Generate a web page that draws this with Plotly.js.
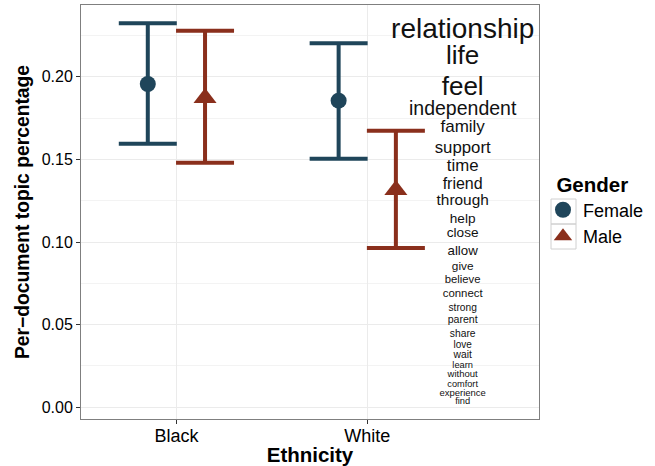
<!DOCTYPE html>
<html>
<head>
<meta charset="utf-8">
<script src="https://cdn.plot.ly/plotly-3.0.1.min.js"></script>
<style>html,body{margin:0;padding:0;background:#fff;}#chart{width:655px;height:466px;}</style>
</head>
<body>
<div id="chart"></div>
<script>
// ---- data ----
const categories = ['Black', 'White'];
const genders = ['Female', 'Male'];
const femaleMean  = [0.1956, 0.1855];
const femaleLower = [0.1595, 0.1504];
const femaleUpper = [0.2323, 0.2202];
const maleMean    = [0.1871, 0.1314];
const maleLower   = [0.1480, 0.0964];
const maleUpper   = [0.2278, 0.1673];

const words = ['relationship','life','feel','independent','family','support','time','friend','through','help','close','allow','give','believe','connect','strong','parent','share','love','wait','learn','without','comfort','experience','find'];
const wordY = [0.2276,0.2119,0.1926,0.1799,0.1690,0.1563,0.1454,0.1345,0.1248,0.1133,0.1049,0.0940,0.0849,0.0771,0.0686,0.0595,0.0523,0.0438,0.0372,0.0311,0.0251,0.0196,0.0136,0.0082,0.0033];
const wordSize = [28,26,26,19.5,17,16.8,16.8,16,15.4,13.6,13.6,13.3,11.8,11.3,11.4,10.2,10.6,10.3,10,10.3,9.3,9.5,9.2,9.5,9.3];
const wordX = 2.5;

// ---- styling ----
const FONT = 'Liberation Sans, Arial, Helvetica, sans-serif';
const colFemale = '#1f455a';
const colMale = '#8a2f1c';
const dodge = 0.15;
const catPos = categories.map((c, i) => i + 1);

function errTrace(name, mean, lower, upper, offset, color, symbol, size) {
  return {
    type: 'scatter', mode: 'markers', name: name,
    x: catPos.map(p => p + offset), y: mean,
    marker: {color: color, symbol: symbol, size: size, line: {width: 0}},
    error_y: {type: 'data', symmetric: false,
      array: upper.map((u, i) => u - mean[i]),
      arrayminus: lower.map((l, i) => mean[i] - l),
      color: color, thickness: 4, width: 29},
    hoverinfo: 'skip'
  };
}

const traces = [
  errTrace(genders[0], femaleMean, femaleLower, femaleUpper, -dodge, colFemale, 'circle', 16),
  errTrace(genders[1], maleMean, maleLower, maleUpper, dodge, colMale, 'triangle-up', 20),
  {type: 'scatter', mode: 'text', x: words.map(() => wordX), y: wordY, text: words,
   textposition: 'middle center', textfont: {family: FONT, size: wordSize, color: '#111'},
   showlegend: false, hoverinfo: 'skip', cliponaxis: false}
];

// ggplot-style legend key boxes (paper coords from pixel positions)
const keyBox = (x0, x1, y0, y1) => ({type: 'rect', xref: 'paper', yref: 'paper',
  x0: (x0 - 81) / 458, x1: (x1 - 81) / 458, y0: (419 - y1) / 414, y1: (419 - y0) / 414,
  line: {color: '#d0d0d0', width: 1}, fillcolor: 'rgba(0,0,0,0)', layer: 'below'});

const layout = {
  width: 655, height: 466,
  margin: {l: 81, r: 116, t: 5, b: 47, autoexpand: false},
  paper_bgcolor: '#fff', plot_bgcolor: '#fff',
  font: {family: FONT, color: '#000'},
  showlegend: true,
  xaxis: {
    range: [0.5, 2.9], tickvals: catPos, ticktext: categories,
    showgrid: true, gridcolor: '#ebebeb', gridwidth: 1, zeroline: false,
    showline: true, mirror: true, linecolor: '#7f7f7f', linewidth: 1,
    ticks: 'outside', ticklen: 4, tickcolor: '#333', tickfont: {size: 18, color: '#000'},
    ticklabelstandoff: -4,
    title: {text: 'Ethnicity', font: {size: 20.5, color: '#000', weight: 'bold'}, standoff: 0}
  },
  yaxis: {
    range: [-0.0071, 0.2434], tickvals: [0, 0.05, 0.10, 0.15, 0.20], ticktext: ['0.00','0.05','0.10','0.15','0.20'],
    showgrid: true, gridcolor: '#ebebeb', gridwidth: 1, zeroline: false,
    minor: {tickvals: [0.025, 0.075, 0.125, 0.175, 0.225], showgrid: true, gridcolor: '#f3f3f3', gridwidth: 1, ticks: ''},
    showline: true, mirror: true, linecolor: '#7f7f7f', linewidth: 1,
    ticks: 'outside', ticklen: 4, tickcolor: '#333', tickfont: {size: 16, color: '#000'},
    title: {text: 'Per\u2212document topic percentage', font: {size: 19.3, color: '#000', weight: 'bold'}, standoff: 6}
  },
  legend: {
    x: 1.0087, y: 0.505, xanchor: 'left', yanchor: 'middle',
    title: {text: '\u00a0\u00a0Gender', font: {size: 20.5, weight: 'bold', color: '#000'}},
    font: {size: 18, color: '#000'}, itemwidth: 30, tracegroupgap: 0,
    bgcolor: 'rgba(0,0,0,0)'
  },
  shapes: [keyBox(551, 576, 199, 224), keyBox(551, 576, 224, 249)]
};

Plotly.newPlot('chart', traces, layout, {displayModeBar: false, staticPlot: true});
</script>
</body>
</html>
